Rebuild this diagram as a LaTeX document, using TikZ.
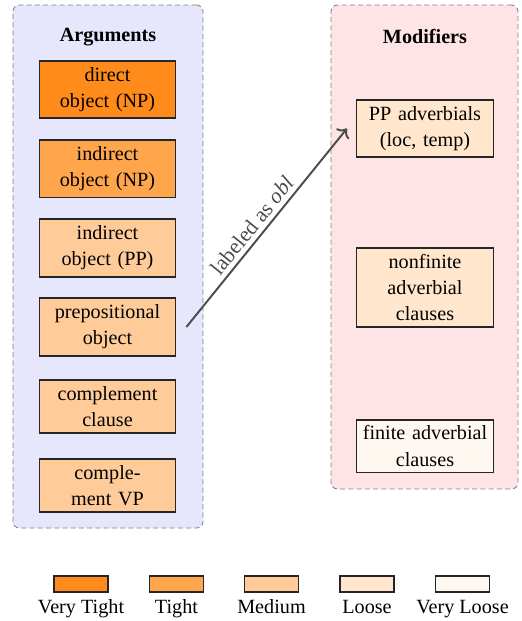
\documentclass[tikz,border=0pt]{standalone}
\usepackage{fontspec}
\setmainfont{Liberation Serif}
\usetikzlibrary{arrows.meta}
\definecolor{vtight}{RGB}{255,140,26}
\definecolor{tight}{RGB}{255,166,77}
\definecolor{medium}{RGB}{255,204,153}
\definecolor{loose}{RGB}{255,230,204}
\definecolor{vloose}{RGB}{255,248,241}
\definecolor{argbg}{RGB}{230,230,252}
\definecolor{modbg}{RGB}{255,228,230}
\tikzset{
  every node/.style={font=\fontsize{9.3}{12}\selectfont},
  panel/.style={draw=black!50, dash pattern=on 2.3pt off 1.5pt, rounded corners=3pt, line width=0.4pt, inner sep=0pt},
  ptitle/.style={font=\fontsize{9.3}{12}\selectfont\bfseries, anchor=base, inner sep=0pt},
  cbox/.style={draw=black!85, line width=0.5pt, inner sep=0pt, text width=63pt, minimum width=63pt, align=center},
  lbox/.style={draw=black!85, line width=0.5pt, inner sep=0pt, minimum width=24.9pt, minimum height=7.4pt},
  ltext/.style={anchor=base, inner sep=0pt},
  conn/.style={->, black!70, line width=0.9pt},
  clabel/.style={font=\fontsize{10}{12}\selectfont, sloped, above, inner sep=2pt}
}
\begin{document}
\begin{tikzpicture}[x=0.4608pt,y=-0.4608pt]
\useasboundingbox (0,0) rectangle (522,621);
% panels
\node[panel, fill=argbg, minimum width=87.6pt, minimum height=241pt] (argp) at (108,266.5) {};
\node[panel, fill=modbg, minimum width=86.2pt, minimum height=223pt] (modp) at (424.5,247) {};
\node[ptitle] (argt) at (108,41.5) {Arguments};
\node[ptitle] (modt) at (425,43) {Modifiers};
% argument boxes
\node[cbox, fill=vtight, minimum height=26.3pt] (dobj) at (107.5,89.5) {direct\\object (NP)};
\node[cbox, fill=tight, minimum height=26.3pt] (iobjnp) at (107.5,168.5) {indirect\\object (NP)};
\node[cbox, fill=medium, minimum height=26.7pt] (iobjpp) at (107.5,248) {indirect\\object (PP)};
\node[cbox, fill=medium, minimum height=26.7pt] (prep) at (107.5,327) {prepositional\\object};
\node[cbox, fill=medium, minimum height=24.4pt] (ccl) at (107.5,406.5) {complement\\clause};
\node[cbox, fill=medium, minimum height=24.4pt] (cvp) at (107.5,485.5) {comple-\\ment VP};
% modifier boxes
\node[cbox, fill=loose, minimum height=26.3pt] (ppadv) at (425,128.5) {PP adverbials\\(loc, temp)};
\node[cbox, fill=loose, minimum height=36.4pt] (nonfin) at (425,287.5) {nonfinite\\adverbial\\clauses};
\node[cbox, fill=vloose, minimum height=24pt] (fin) at (425,446) {finite adverbial\\clauses};
% connector
\draw[conn] ([xshift=4.6pt]prep.east) -- node[clabel, pos=0.47] {labeled as \textit{obl}} ([xshift=-4.2pt]ppadv.west);
% legend
\node[lbox, fill=vtight] (l1) at (81,584) {};
\node[lbox, fill=tight] (l2) at (176.5,584) {};
\node[lbox, fill=medium] (l3) at (271.5,584) {};
\node[lbox, fill=loose] (l4) at (367,584) {};
\node[lbox, fill=vloose] (l5) at (462.5,584) {};
\node[ltext] (t1) at (81,613) {Very Tight};
\node[ltext] (t2) at (176.5,613) {Tight};
\node[ltext] (t3) at (271.5,613) {Medium};
\node[ltext] (t4) at (367,613) {Loose};
\node[ltext] (t5) at (462.5,613) {Very Loose};
\end{tikzpicture}
\end{document}
